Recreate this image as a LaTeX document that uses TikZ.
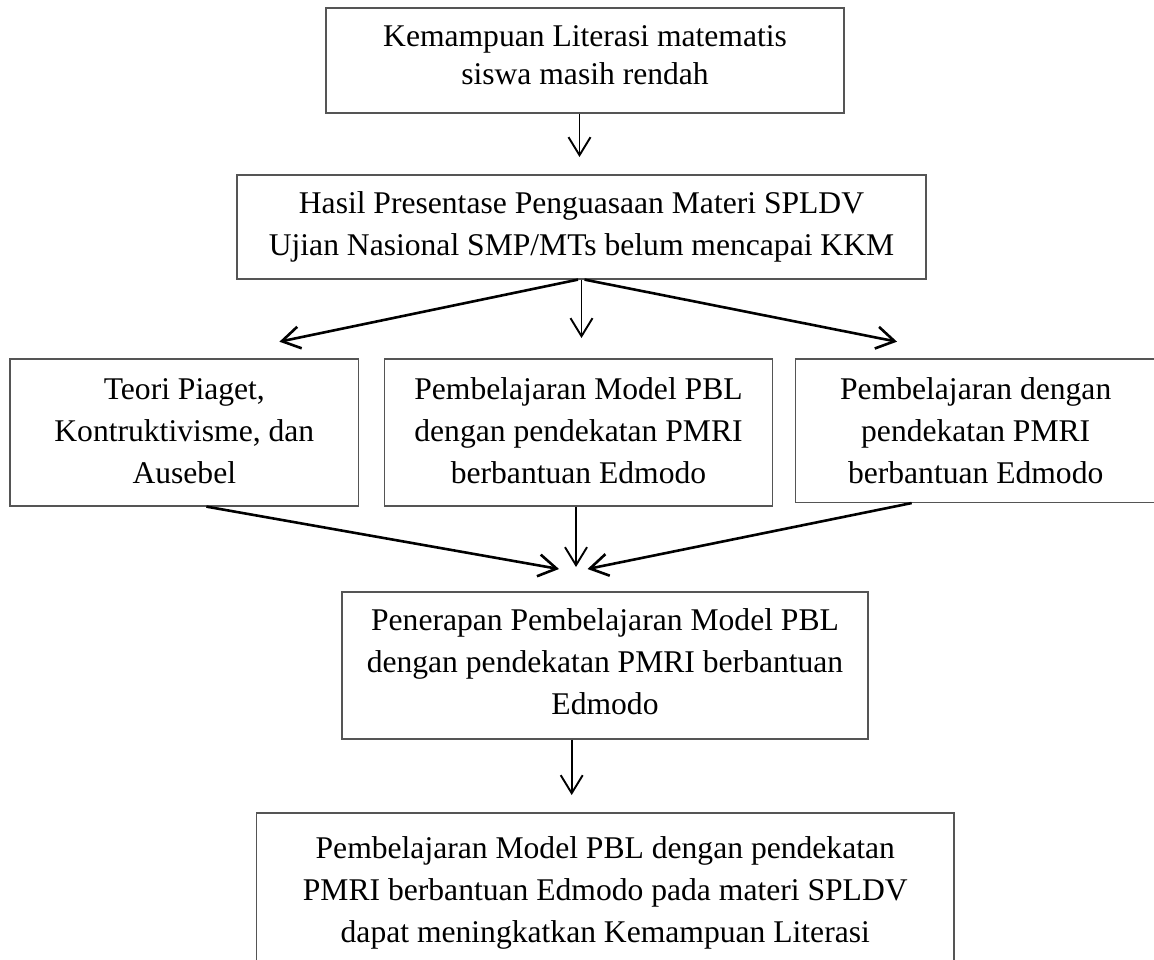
\documentclass[tikz,border=0pt]{standalone}
\usepackage{fontspec}
\setmainfont{Liberation Serif}
\usetikzlibrary{arrows.meta,calc}
\definecolor{boxgray}{HTML}{555555}
\begin{document}
\begin{tikzpicture}[x=0.5pt,y=-0.5pt,
  box/.style={draw=boxgray, line width=0.6pt, rectangle, inner sep=0pt},
  txt/.style={align=center, inner sep=0pt, font=\fontsize{15.8pt}{21pt}\selectfont},
  arr/.style={-{Straight Barb[length=9pt,width=11pt]}, line width=1.3pt, black},
  varr/.style={arr, line width=0.95pt},
]
\useasboundingbox (0,0) rectangle (1154,959);

% boxes
\node[box, minimum width=259pt, minimum height=52.5pt] (b1) at (585,60.5) {};
\node[box, minimum width=344.5pt, minimum height=52pt] (b2) at (581.5,227) {};
\node[box, minimum width=174.3pt, minimum height=73.5pt] (b3) at (184.3,432.5) {};
\node[box, minimum width=194pt, minimum height=73.5pt] (b4) at (578.5,432.5) {};
\node[box, minimum width=180.25pt, minimum height=71.75pt] (b5) at (975.7,430.7) {};
\node[box, minimum width=263pt, minimum height=73.5pt] (b6) at (605,665.5) {};
\node[box, minimum width=348.75pt, minimum height=80pt] (b7) at (605.25,893) {};

% texts
\node[txt, font=\fontsize{15.8pt}{19pt}\selectfont] (b1t) at (585,55.5)
  {Kemampuan Literasi matematis\\siswa masih rendah};
\node[txt] (b2t) at (581.5,227)
  {Hasil Presentase Penguasaan Materi SPLDV\\Ujian Nasional SMP/MTs belum mencapai KKM};
\node[txt] (b3t) at (184.3,430.7)
  {Teori Piaget,\\Kontruktivisme, dan\\Ausebel};
\node[txt] (b4t) at (578.5,430.7)
  {Pembelajaran Model PBL\\dengan pendekatan PMRI\\berbantuan Edmodo};
\node[txt] (b5t) at (975.7,430.7)
  {Pembelajaran dengan\\pendekatan PMRI\\berbantuan Edmodo};
\node[txt] (b6t) at (605,661.5)
  {Penerapan Pembelajaran Model PBL\\dengan pendekatan PMRI berbantuan\\Edmodo};
\node[txt] (b7t) at (605.25,893)
  {Pembelajaran Model PBL dengan pendekatan\\PMRI berbantuan Edmodo pada materi SPLDV\\dapat meningkatkan Kemampuan Literasi};

% arrow tips
\coordinate (t1) at (579.5,157);
\coordinate (t2) at (279.4,341.7);
\coordinate (t3) at (581.5,338);
\coordinate (t4) at (897,341.7);
\coordinate (t5) at (559,569);
\coordinate (t6) at (576,567);
\coordinate (t7) at (587.5,569);
\coordinate (t8) at (571.7,795);

\draw[varr] (b1.south -| t1) -- (t1);
\draw[arr] ($(b2.south)+(-3.5,0)$) -- (t2);
\draw[varr] (b2.south -| t3) -- (t3);
\draw[arr] ($(b2.south)+(3,0)$) -- (t4);
\draw[arr] ($(b3.south west)+(197,0)$) -- (t5);
\draw[varr] (b4.south -| t6) -- (t6);
\draw[arr] ($(b5.south west)+(116.8,0)$) -- (t7);
\draw[varr] (b6.south -| t8) -- (t8);
\end{tikzpicture}
\end{document}
